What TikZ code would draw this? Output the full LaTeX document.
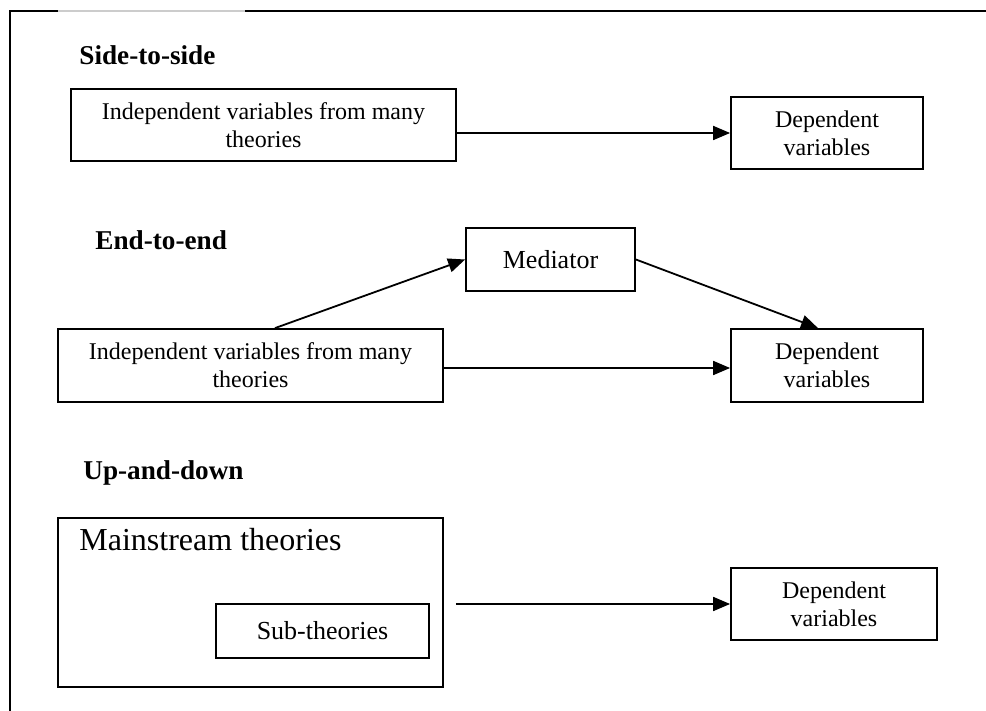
\documentclass[tikz,border=0pt]{standalone}
\usepackage{fontspec}
\setmainfont{Liberation Serif}
\usetikzlibrary{calc,arrows.meta}

\begin{document}
\begin{tikzpicture}[x=0.5pt, y=-0.5pt,
    box/.style={draw, line width=0.9pt, align=center, inner sep=0pt,
        font=\fontsize{12}{14}\selectfont},
    heading/.style={anchor=west, inner sep=0pt, font=\fontsize{13.6}{15}\selectfont\bfseries},
    arr/.style={-{Triangle[length=8.5pt,width=7pt]}, line width=0.9pt}]
                \useasboundingbox (0, 0) rectangle (986, 711);
                % frame
                \draw[line width=1pt] (10, 711) -- (10, 11) -- (58, 11);
                \draw[line width=1pt, gray!40] (58, 11) -- (245, 11);
                \draw[line width=1pt] (245, 11) -- (986, 11);
                % side-to-side
                \node[heading] (hsts) at (79, 55) {Side-to-side};
                \node[box, minimum width=192.5pt, minimum height=36pt] (ivA) at (263.5, 125) {Independent variables from many\\theories};
                \node[box, minimum width=96pt, minimum height=36pt] (depA) at (827, 133) {Dependent\\variables};
                \draw[arr] (ivA.east |- depA.west) -- (depA.west);
                % end-to-end
                \node[heading] (hete) at (95, 240) {End-to-end};
                \node[box, minimum width=84.5pt, minimum height=31.5pt] (med) at (550.5, 259.5) {\fontsize{13}{15}\selectfont Mediator};
                \node[box, minimum width=192.5pt, minimum height=36.5pt] (ivB) at (250.5, 365.5) {Independent variables from many\\theories};
                \node[box, minimum width=96pt, minimum height=36.5pt] (depB) at (827, 365.5) {Dependent\\variables};
                \draw[arr] ($(ivB.north) + (24.5, 0)$) -- (med.west);
                \draw[arr] (med.east) -- ($(depB.north) + (-9, 0)$);
                \draw[arr] ($(ivB.east) + (0, 2.5)$) -- ($(depB.west) + (0, 2.5)$);
                % up-and-down
                \node[heading] (huad) at (83, 473) {Up-and-down};
                \node[box, minimum width=192.5pt, minimum height=84.5pt] (main) at (250.5, 602.5) {};
                \node[anchor=west, inner sep=0pt, font=\fontsize{16}{18}\selectfont] (mainlbl) at (79, 540) {Mainstream theories};
                \node[box, minimum width=106.5pt, minimum height=27pt] (sub) at (322.5, 631) {\fontsize{13}{15}\selectfont Sub-theories};
                \node[box, minimum width=103pt, minimum height=36pt] (depC) at (834, 604) {Dependent\\variables};
                \coordinate (mainout) at ($(main.east |- depC.west) + (12, 0)$);
                \draw[arr] (mainout) -- (depC.west);
            \end{tikzpicture}
\end{document}
